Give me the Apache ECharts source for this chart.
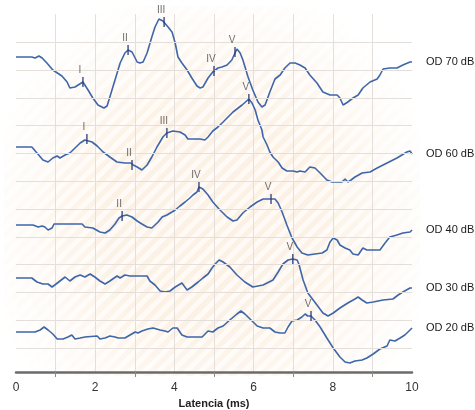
<!DOCTYPE html>
<html>
<head>
<meta charset="utf-8">
<script src="https://cdn.jsdelivr.net/npm/echarts@6/dist/echarts.min.js"></script>
<style>
html,body{margin:0;padding:0;background:#fff;}
#wrap{position:relative;width:475px;height:410px;}
#bg{position:absolute;left:4px;top:6px;width:416px;height:370px;
background:repeating-linear-gradient(135deg,#fcf1e5 0px,#fcf1e5 5px,#fffaf5 5px,#fffaf5 10px);
-webkit-mask-image:radial-gradient(ellipse at 50% 58%,#000 35%,rgba(0,0,0,0) 80%);
mask-image:radial-gradient(ellipse at 50% 58%,#000 35%,rgba(0,0,0,0) 80%);}
#chart{position:absolute;left:0;top:0;width:475px;height:410px;}
</style>
</head>
<body>
<div id="wrap"><div id="bg"></div><div id="chart"></div></div>
<script>
// Latency (ms) / amplitude (arbitrary units, stacked traces)
const trace70 = [[0,315],[0.40,315],[0.48,314],[0.58,316],[0.66,314],[0.78,309],[0.93,302],[1.16,296],[1.29,290],[1.36,284],[1.49,285],[1.57,287],[1.69,290],[1.74,289],[1.82,282],[1.94,274],[2.07,267],[2.22,264],[2.30,266],[2.37,275],[2.50,292],[2.63,309],[2.75,319],[2.83,322],[2.93,320],[3.06,310],[3.13,309],[3.21,310],[3.31,319],[3.43,335],[3.51,345],[3.61,353],[3.71,351],[3.84,345],[3.94,340],[4.02,329],[4.09,315],[4.19,309],[4.32,302],[4.44,294],[4.57,286],[4.65,284],[4.72,285],[4.85,294],[4.97,300],[5.10,304],[5.20,305],[5.33,307],[5.45,312],[5.53,319],[5.58,323],[5.66,319],[5.73,312],[5.86,295],[5.98,282],[6.11,270],[6.21,265],[6.29,267],[6.41,280],[6.54,293],[6.67,297],[6.79,304],[6.92,309],[7.05,309],[7.17,307],[7.30,304],[7.42,297],[7.60,289],[7.75,280],[7.93,277],[8.11,277],[8.18,274],[8.26,267],[8.38,270],[8.51,274],[8.64,277],[8.76,284],[8.94,290],[9.12,293],[9.19,297],[9.27,303],[9.44,304],[9.62,304],[9.77,307],[9.95,310],[10,310]];
const trace60 = [[0,225],[0.40,225],[0.53,219],[0.68,212],[0.81,210],[0.93,214],[1.04,216],[1.11,214],[1.24,217],[1.36,219],[1.49,224],[1.62,229],[1.74,232],[1.79,233],[1.92,230],[2.05,226],[2.20,220],[2.37,215],[2.55,210],[2.75,209],[2.90,209],[2.96,207],[3.06,205],[3.18,202],[3.31,207],[3.43,215],[3.56,225],[3.71,235],[3.81,239],[3.96,241],[4.14,240],[4.27,237],[4.34,233],[4.47,233],[4.65,233],[4.77,232],[4.85,235],[4.97,241],[5.10,245],[5.23,250],[5.48,260],[5.71,267],[5.88,273],[5.96,269],[6.04,262],[6.11,252],[6.21,242],[6.24,235],[6.34,227],[6.41,220],[6.49,215],[6.62,210],[6.72,204],[6.84,201],[7.00,201],[7.10,200],[7.17,201],[7.30,200],[7.42,205],[7.55,204],[7.68,199],[7.85,192],[7.98,190],[8.11,190],[8.23,190],[8.31,193],[8.38,190],[8.46,192],[8.56,195],[8.74,199],[8.94,200],[9.12,204],[9.37,209],[9.62,214],[9.87,220],[9.95,221],[10,218]];
const trace40 = [[0,147],[0.43,147],[0.56,145],[0.66,146],[0.73,145],[0.81,142],[0.91,144],[0.96,148],[1.29,148],[1.67,148],[1.74,145],[1.94,144],[2.12,140],[2.25,139],[2.37,142],[2.50,148],[2.60,154],[2.68,156],[2.80,157],[2.93,155],[3.06,151],[3.18,148],[3.31,145],[3.43,144],[3.51,147],[3.59,150],[3.69,155],[3.81,157],[3.94,160],[4.02,162],[4.14,166],[4.27,170],[4.39,174],[4.47,177],[4.57,180],[4.62,185],[4.72,183],[4.85,177],[4.97,170],[5.15,162],[5.33,155],[5.48,151],[5.58,152],[5.73,159],[5.91,165],[6.09,170],[6.24,173],[6.44,173],[6.54,173],[6.62,169],[6.72,160],[6.84,147],[6.97,134],[7.10,125],[7.22,119],[7.37,117],[7.55,118],[7.73,119],[7.85,122],[7.93,130],[8.01,134],[8.11,132],[8.18,127],[8.31,124],[8.43,122],[8.51,118],[8.64,117],[8.76,124],[8.86,122],[8.99,122],[9.19,122],[9.32,129],[9.44,135],[9.62,137],[9.77,139],[9.95,140],[10,142]];
const trace30 = [[0,94],[0.40,94],[0.53,90],[0.68,88],[0.81,88],[0.91,85],[0.98,87],[1.11,91],[1.24,95],[1.36,91],[1.49,95],[1.62,97],[1.74,95],[1.87,98],[1.99,95],[2.12,91],[2.25,88],[2.37,91],[2.55,96],[2.63,94],[2.75,97],[2.88,96],[3.06,96],[3.31,96],[3.38,91],[3.51,87],[3.64,81],[3.76,80],[3.89,81],[4.02,85],[4.19,89],[4.32,82],[4.44,85],[4.60,90],[4.72,94],[4.85,98],[4.95,104],[5.03,108],[5.13,112],[5.23,110],[5.40,105],[5.58,97],[5.78,90],[5.98,85],[6.24,87],[6.49,92],[6.62,100],[6.74,108],[6.87,112],[6.99,113],[7.10,112],[7.15,107],[7.25,92],[7.37,79],[7.60,67],[7.75,59],[7.88,56],[8.01,59],[8.18,64],[8.38,69],[8.56,73],[8.64,75],[8.74,72],[8.86,69],[9.02,70],[9.27,72],[9.52,73],[9.65,77],[9.77,80],[9.95,84],[10,84]];
const trace20 = [[0,40],[0.48,40],[0.61,42],[0.71,45],[0.81,42],[0.93,38],[1.04,33],[1.19,33],[1.31,35],[1.41,37],[1.49,33],[1.62,34],[1.74,35],[2.05,36],[2.12,33],[2.25,34],[2.37,36],[2.50,35],[2.58,34],[2.75,34],[2.88,37],[3.01,40],[3.08,39],[3.18,41],[3.33,43],[3.46,44],[3.64,42],[3.76,41],[3.84,40],[3.96,44],[4.07,44],[4.19,37],[4.32,35],[4.47,35],[4.70,35],[4.85,41],[4.97,40],[5.10,44],[5.23,46],[5.40,52],[5.58,58],[5.68,61],[5.78,58],[5.91,53],[6.09,46],[6.24,44],[6.41,44],[6.54,40],[6.67,39],[6.79,39],[6.87,45],[6.97,51],[7.10,52],[7.22,55],[7.30,58],[7.37,56],[7.45,56],[7.55,52],[7.68,45],[7.85,34],[8.01,24],[8.18,15],[8.31,10],[8.43,9],[8.56,11],[8.74,12],[8.86,14],[9.02,18],[9.19,23],[9.37,26],[9.44,32],[9.57,31],[9.70,34],[9.82,37],[9.95,42],[10,44]];

const traceNames = ['OD 70 dB','OD 60 dB','OD 40 dB','OD 30 dB','OD 20 dB'];
// peak markers: [latency, amplitude, wave label]
const peaks = [
  [1.69,290,'I'],[2.83,322,'II'],[3.74,350,'III'],[5.0,301,'IV'],[5.53,320,'V'],
  [1.79,233,'I'],[2.93,207,'II'],[3.81,239,'III'],[5.88,273,'V'],
  [2.68,156,'II'],[4.62,185,'IV'],[6.44,173,'V'],
  [6.99,113,'V'],
  [7.45,56,'V']
];
const xTicks = [0,2,4,6,8,10];
const gridRows = [24,51.8,79.6,107.4,135.2,163,190.8,218.6,246.4,274.2,302,329.8];

const FONT = 'Liberation Sans, Arial, sans-serif';
const LINE = '#3e66a9';
const GRIDC = '#e4dfda';
const traces = [trace70, trace60, trace40, trace30, trace20];

const series = [{
  type: 'line', data: [], silent: true, z: 1,
  markLine: {
    silent: true, symbol: 'none', animation: false,
    label: {show: false},
    lineStyle: {color: GRIDC, width: 1, type: 'solid'},
    data: gridRows.map(v => ({yAxis: v}))
  }
}];
traces.forEach((d, i) => {
  series.push({
    name: traceNames[i], type: 'line', data: d, showSymbol: false, symbol: 'none',
    smooth: false, z: 3,
    lineStyle: {color: LINE, width: 1.6},
    endLabel: {show: true, formatter: '{a}', color: '#1a1a1a', fontSize: 11,
      fontFamily: FONT, distance: 14},
    emphasis: {disabled: true}
  });
});
series.push({
  type: 'scatter', data: peaks, z: 5,
  symbol: 'rect', symbolSize: [1.6, 10],
  itemStyle: {color: '#27397a'},
  label: {show: true, position: 'top', distance: 2, offset: [-3, 0],
    formatter: p => p.value[2], color: '#4a4a4a', fontSize: 10, fontFamily: FONT},
  emphasis: {disabled: true}
});

const chart = echarts.init(document.getElementById('chart'), null, {renderer: 'canvas'});
chart.setOption({
  animation: false,
  grid: {left: 16, right: 63, top: 14, bottom: 38, containLabel: false, outerBoundsMode: 'none'},
  xAxis: {
    type: 'value', min: 0, max: 10, interval: 2,
    name: 'Latencia (ms)', nameLocation: 'middle', nameGap: 26,
    nameTextStyle: {fontFamily: FONT, fontSize: 11, fontWeight: 'bold', color: '#222'},
    axisLine: {show: true, lineStyle: {color: '#6b6b6b', width: 2.5}},
    axisTick: {show: false},
    minorTick: {show: true, splitNumber: 2, length: 5, lineStyle: {color: '#8a8a8a', width: 1}},
    axisLabel: {margin: 10, fontFamily: FONT, fontSize: 12, color: '#333',
      formatter: v => xTicks.includes(v) ? String(v) : ''},
    splitLine: {show: true, showMinLine: false, showMaxLine: false, lineStyle: {color: GRIDC, width: 1}},
    minorSplitLine: {show: true, lineStyle: {color: GRIDC, width: 1}}
  },
  yAxis: {type: 'value', min: 0, max: 358, show: false, splitLine: {show: false}},
  series: series
});
</script>
</body>
</html>
